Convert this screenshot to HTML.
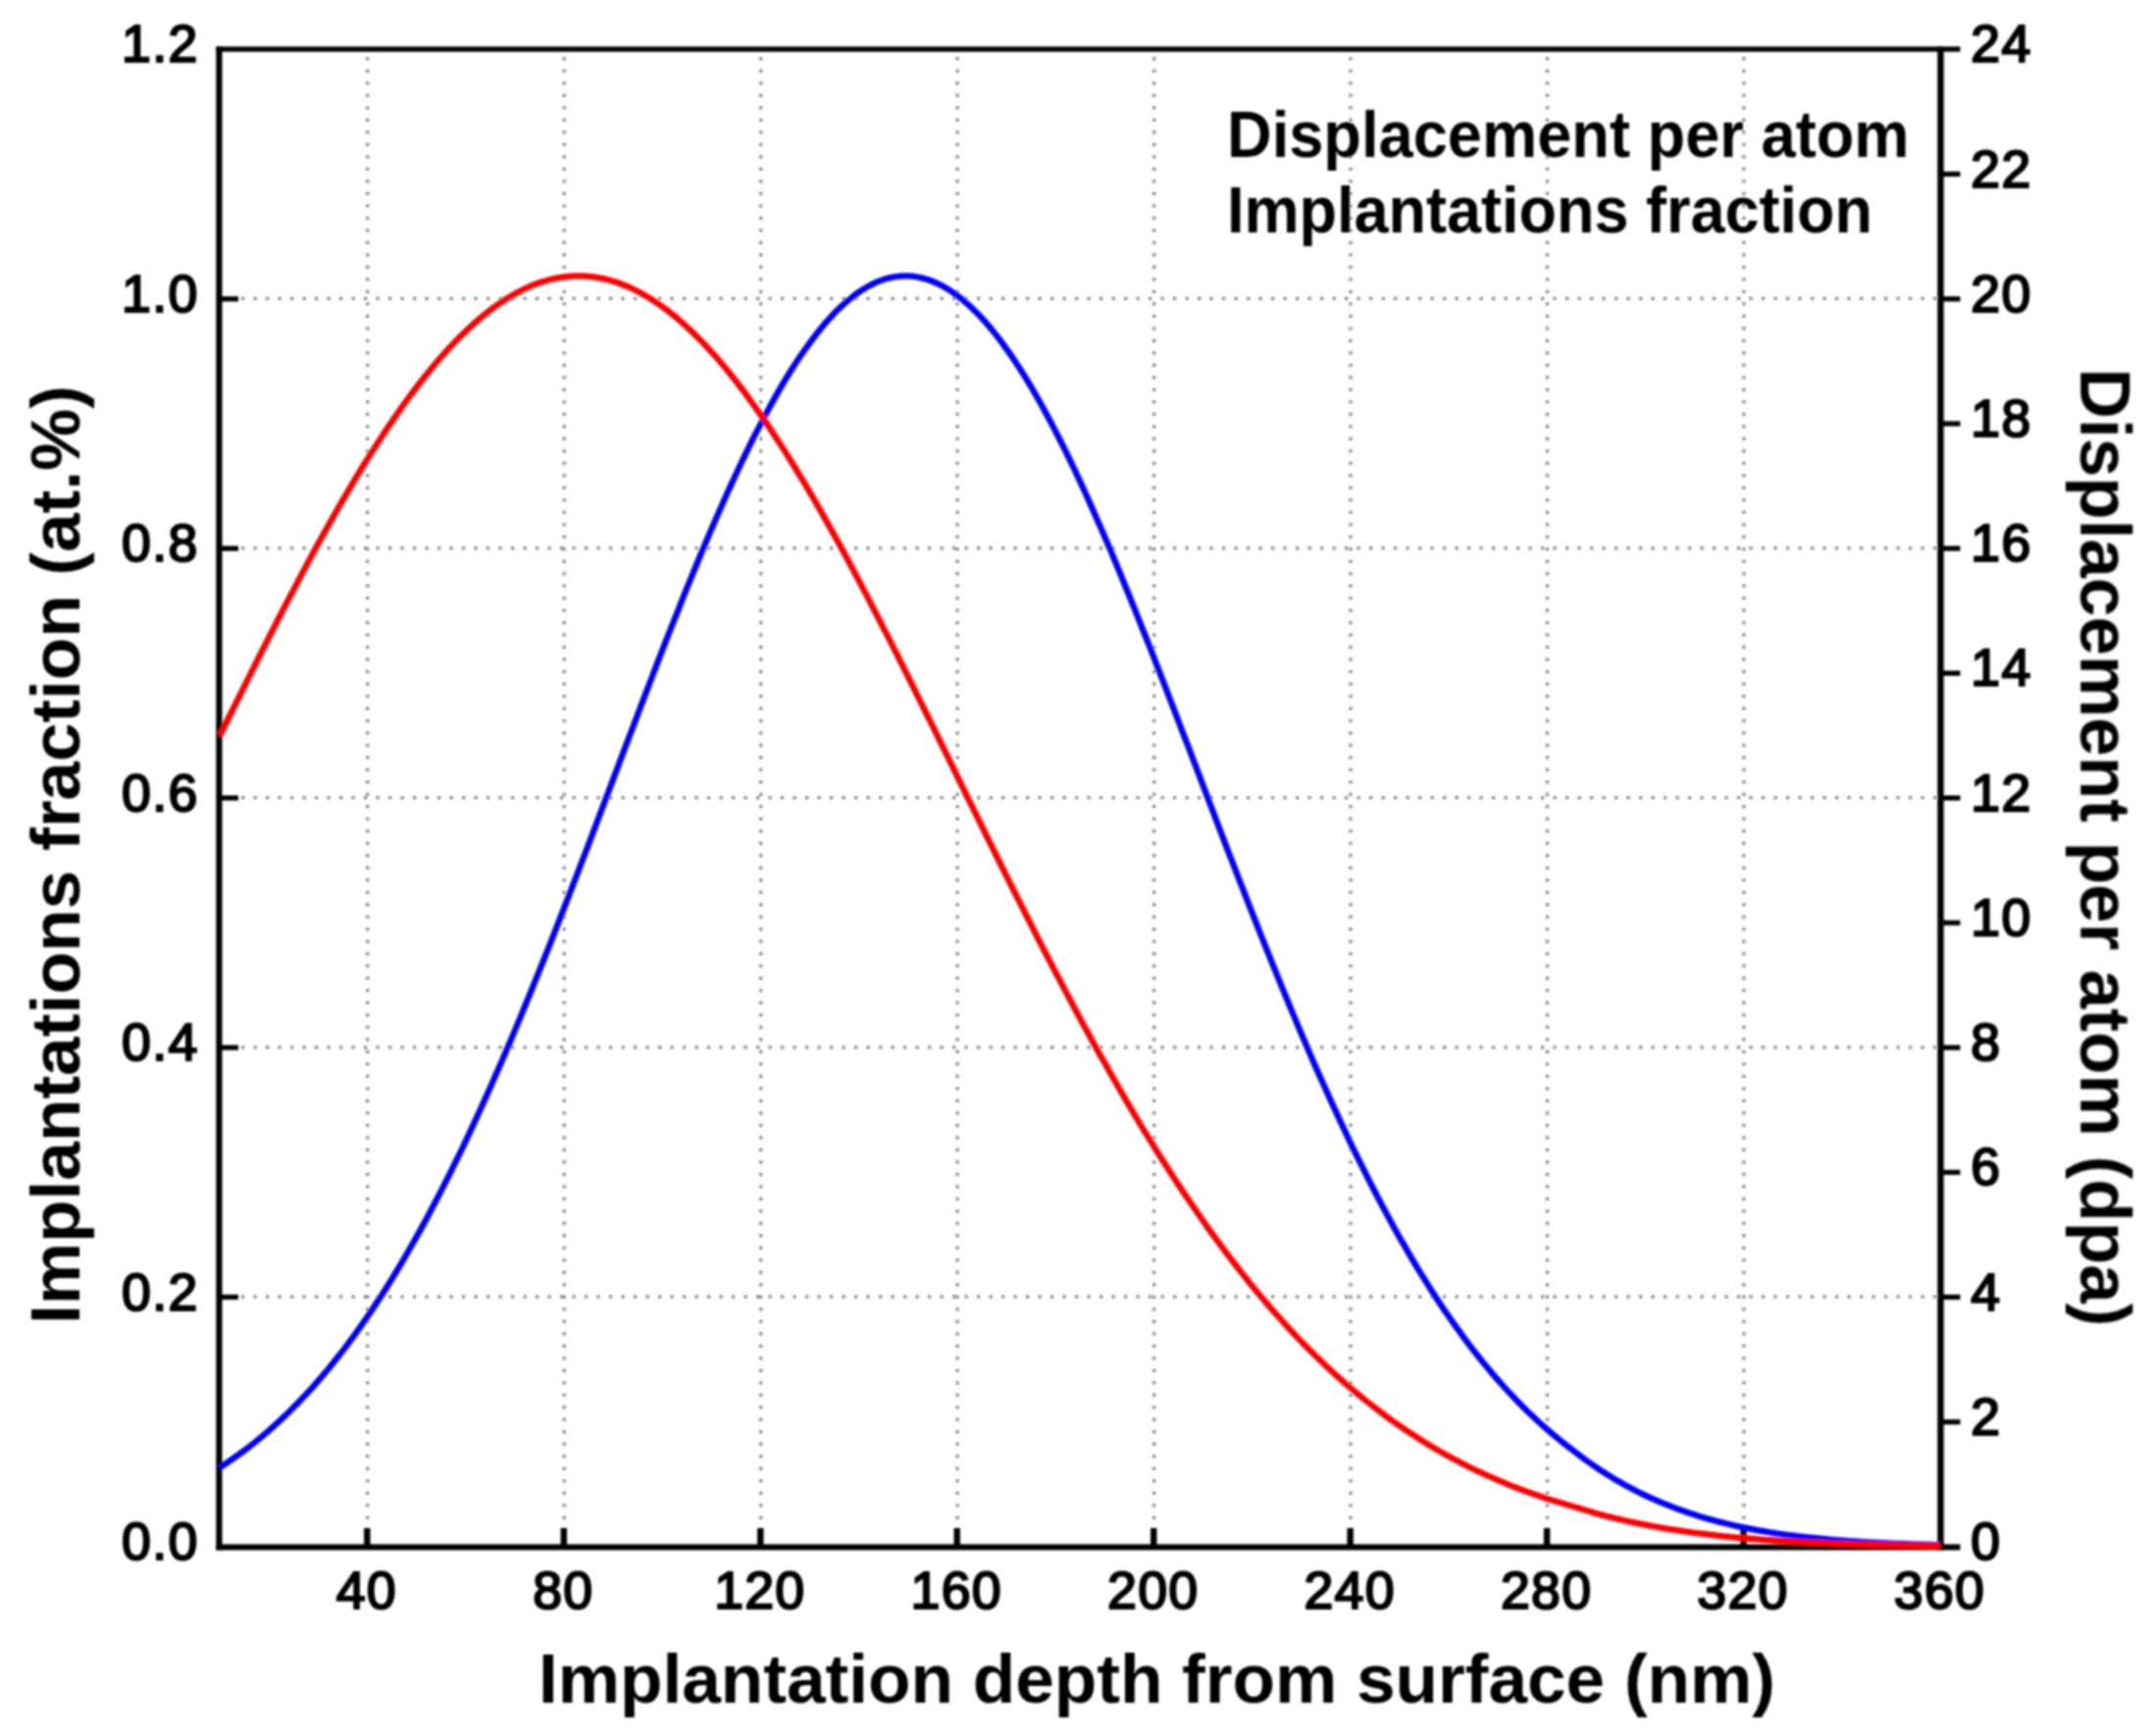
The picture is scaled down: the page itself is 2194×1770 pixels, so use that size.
<!DOCTYPE html>
<html lang="en"><head><meta charset="utf-8"><title>Implantation depth profile</title>
<style>html,body{margin:0;padding:0;background:#fff;}body{width:2194px;height:1770px;overflow:hidden;}svg{display:block;}
text{font-family:"Liberation Sans",Arial,sans-serif;fill:#000;}
.tk{font-size:53.6px;stroke:#000;stroke-width:2.2px;letter-spacing:1.3px;}
.ax{font-weight:bold;}
.lg{font-size:67px;font-weight:bold;}
</style></head><body>
<svg width="2194" height="1770" viewBox="0 0 2194 1770">
<rect width="2194" height="1770" fill="#fff"/>
<defs><filter id="soft" x="0" y="0" width="2194" height="1770" filterUnits="userSpaceOnUse"><feGaussianBlur stdDeviation="0.9"/></filter></defs>
<g filter="url(#soft)">
<g stroke="#858585" stroke-width="3.2" stroke-dasharray="3.2 9.3" fill="none">
<line x1="374.7" y1="58.3" x2="374.7" y2="1574.0"/>
<line x1="575.2" y1="58.3" x2="575.2" y2="1574.0"/>
<line x1="775.7" y1="58.3" x2="775.7" y2="1574.0"/>
<line x1="976.1" y1="58.3" x2="976.1" y2="1574.0"/>
<line x1="1176.6" y1="58.3" x2="1176.6" y2="1574.0"/>
<line x1="1377.0" y1="58.3" x2="1377.0" y2="1574.0"/>
<line x1="1577.5" y1="58.3" x2="1577.5" y2="1574.0"/>
<line x1="1777.9" y1="58.3" x2="1777.9" y2="1574.0"/>
<line x1="246.0" y1="1322.2" x2="1975.0" y2="1322.2"/>
<line x1="246.0" y1="1067.8" x2="1975.0" y2="1067.8"/>
<line x1="246.0" y1="813.3" x2="1975.0" y2="813.3"/>
<line x1="246.0" y1="558.9" x2="1975.0" y2="558.9"/>
<line x1="246.0" y1="304.4" x2="1975.0" y2="304.4"/>
</g>
<g stroke="#000" fill="none">
<line stroke-width="5.1" x1="220.3" y1="50.1" x2="1998.5" y2="50.1"/>
<line stroke-width="6.2" x1="220.3" y1="1577.5" x2="1998.5" y2="1577.5"/>
<line stroke-width="6.2" x1="223.4" y1="47.5" x2="223.4" y2="1580.6"/>
<line stroke-width="6.4" x1="1978.5" y1="47.5" x2="1978.5" y2="1580.6"/>
</g>
<g stroke="#000" fill="none">
<g stroke-width="5.2">
<line x1="224.0" y1="1322.5" x2="243.0" y2="1322.5"/>
<line x1="224.0" y1="1068.1" x2="243.0" y2="1068.1"/>
<line x1="224.0" y1="813.6" x2="243.0" y2="813.6"/>
<line x1="224.0" y1="559.2" x2="243.0" y2="559.2"/>
<line x1="224.0" y1="304.8" x2="243.0" y2="304.8"/>
<line x1="1978.0" y1="1449.8" x2="1998.5" y2="1449.8"/>
<line x1="1978.0" y1="1322.5" x2="1998.5" y2="1322.5"/>
<line x1="1978.0" y1="1195.3" x2="1998.5" y2="1195.3"/>
<line x1="1978.0" y1="1068.1" x2="1998.5" y2="1068.1"/>
<line x1="1978.0" y1="940.9" x2="1998.5" y2="940.9"/>
<line x1="1978.0" y1="813.6" x2="1998.5" y2="813.6"/>
<line x1="1978.0" y1="686.4" x2="1998.5" y2="686.4"/>
<line x1="1978.0" y1="559.2" x2="1998.5" y2="559.2"/>
<line x1="1978.0" y1="432.0" x2="1998.5" y2="432.0"/>
<line x1="1978.0" y1="304.8" x2="1998.5" y2="304.8"/>
<line x1="1978.0" y1="177.5" x2="1998.5" y2="177.5"/>
</g>
<g stroke-width="6.4">
<line x1="374.3" y1="1577.0" x2="374.3" y2="1558.0"/>
<line x1="574.8" y1="1577.0" x2="574.8" y2="1558.0"/>
<line x1="775.3" y1="1577.0" x2="775.3" y2="1558.0"/>
<line x1="975.7" y1="1577.0" x2="975.7" y2="1558.0"/>
<line x1="1176.2" y1="1577.0" x2="1176.2" y2="1558.0"/>
<line x1="1376.6" y1="1577.0" x2="1376.6" y2="1558.0"/>
<line x1="1577.1" y1="1577.0" x2="1577.1" y2="1558.0"/>
<line x1="1777.5" y1="1577.0" x2="1777.5" y2="1558.0"/>
</g>
</g>
<clipPath id="pc"><rect x="222.5" y="50.3" width="1757.0" height="1529.9"/></clipPath>
<g clip-path="url(#pc)">
<path d="M224.0,1496.3 L229.0,1493.1 L234.0,1489.7 L239.0,1486.2 L244.0,1482.6 L249.1,1478.9 L254.1,1475.1 L259.1,1471.1 L264.1,1467.1 L269.1,1462.9 L274.1,1458.6 L279.1,1454.1 L284.1,1449.6 L289.1,1444.9 L294.2,1440.0 L299.2,1435.1 L304.2,1430.0 L309.2,1424.7 L314.2,1419.3 L319.2,1413.8 L324.2,1408.1 L329.2,1402.2 L334.3,1396.3 L339.3,1390.1 L344.3,1383.8 L349.3,1377.4 L354.3,1370.8 L359.3,1364.0 L364.3,1357.1 L369.3,1350.0 L374.3,1342.8 L379.4,1335.4 L384.4,1327.8 L389.4,1320.1 L394.4,1312.2 L399.4,1304.2 L404.4,1296.0 L409.4,1287.6 L414.4,1279.0 L419.4,1270.3 L424.5,1261.4 L429.5,1252.4 L434.5,1243.2 L439.5,1233.8 L444.5,1224.3 L449.5,1214.6 L454.5,1204.8 L459.5,1194.8 L464.5,1184.6 L469.6,1174.3 L474.6,1163.8 L479.6,1153.2 L484.6,1142.4 L489.6,1131.5 L494.6,1120.4 L499.6,1109.2 L504.6,1097.8 L509.7,1086.3 L514.7,1074.7 L519.7,1063.0 L524.7,1051.1 L529.7,1039.1 L534.7,1027.0 L539.7,1014.8 L544.7,1002.5 L549.7,990.1 L554.8,977.5 L559.8,964.9 L564.8,952.2 L569.8,939.4 L574.8,926.6 L579.8,913.6 L584.8,900.6 L589.8,887.6 L594.8,874.5 L599.9,861.3 L604.9,848.1 L609.9,834.9 L614.9,821.7 L619.9,808.4 L624.9,795.1 L629.9,781.9 L634.9,768.6 L639.9,755.3 L645.0,742.1 L650.0,728.9 L655.0,715.7 L660.0,702.6 L665.0,689.5 L670.0,676.5 L675.0,663.6 L680.0,650.7 L685.1,637.9 L690.1,625.3 L695.1,612.7 L700.1,600.2 L705.1,587.9 L710.1,575.7 L715.1,563.6 L720.1,551.7 L725.1,539.9 L730.2,528.3 L735.2,516.9 L740.2,505.6 L745.2,494.6 L750.2,483.7 L755.2,473.0 L760.2,462.6 L765.2,452.4 L770.2,442.4 L775.3,432.6 L780.3,423.1 L785.3,413.9 L790.3,404.9 L795.3,396.1 L800.3,387.7 L805.3,379.5 L810.3,371.6 L815.3,364.0 L820.4,356.7 L825.4,349.8 L830.4,343.1 L835.4,336.7 L840.4,330.7 L845.4,325.0 L850.4,319.6 L855.4,314.6 L860.5,309.9 L865.5,305.6 L870.5,301.6 L875.5,297.9 L880.5,294.6 L885.5,291.7 L890.5,289.1 L895.5,286.9 L900.5,285.1 L905.6,283.6 L910.6,282.5 L915.6,281.8 L920.6,281.4 L925.6,281.4 L930.6,281.7 L935.6,282.5 L940.6,283.6 L945.6,285.0 L950.7,286.8 L955.7,289.0 L960.7,291.5 L965.7,294.4 L970.7,297.6 L975.7,301.2 L980.7,305.1 L985.7,309.3 L990.7,313.9 L995.8,318.9 L1000.8,324.1 L1005.8,329.7 L1010.8,335.6 L1015.8,341.9 L1020.8,348.4 L1025.8,355.3 L1030.8,362.4 L1035.9,369.9 L1040.9,377.6 L1045.9,385.6 L1050.9,393.9 L1055.9,402.5 L1060.9,411.3 L1065.9,420.4 L1070.9,429.8 L1075.9,439.4 L1081.0,449.2 L1086.0,459.2 L1091.0,469.5 L1096.0,480.0 L1101.0,490.7 L1106.0,501.5 L1111.0,512.6 L1116.0,523.9 L1121.0,535.3 L1126.1,546.9 L1131.1,558.6 L1136.1,570.5 L1141.1,582.5 L1146.1,594.7 L1151.1,607.0 L1156.1,619.4 L1161.1,631.9 L1166.1,644.5 L1171.2,657.2 L1176.2,669.9 L1181.2,682.8 L1186.2,695.7 L1191.2,708.7 L1196.2,721.7 L1201.2,734.7 L1206.2,747.8 L1211.3,760.9 L1216.3,774.1 L1221.3,787.2 L1226.3,800.3 L1231.3,813.5 L1236.3,826.6 L1241.3,839.7 L1246.3,852.8 L1251.3,865.8 L1256.4,878.8 L1261.4,891.8 L1266.4,904.7 L1271.4,917.5 L1276.4,930.3 L1281.4,943.0 L1286.4,955.7 L1291.4,968.2 L1296.4,980.7 L1301.5,993.1 L1306.5,1005.4 L1311.5,1017.5 L1316.5,1029.6 L1321.5,1041.6 L1326.5,1053.4 L1331.5,1065.1 L1336.5,1076.7 L1341.5,1088.2 L1346.6,1099.6 L1351.6,1110.8 L1356.6,1121.9 L1361.6,1132.8 L1366.6,1143.6 L1371.6,1154.2 L1376.6,1164.8 L1381.6,1175.1 L1386.7,1185.3 L1391.7,1195.4 L1396.7,1205.3 L1401.7,1215.0 L1406.7,1224.6 L1411.7,1234.0 L1416.7,1243.3 L1421.7,1252.4 L1426.7,1261.4 L1431.8,1270.2 L1436.8,1278.8 L1441.8,1287.3 L1446.8,1295.6 L1451.8,1303.7 L1456.8,1311.7 L1461.8,1319.5 L1466.8,1327.2 L1471.8,1334.7 L1476.9,1342.0 L1481.9,1349.2 L1486.9,1356.2 L1491.9,1363.1 L1496.9,1369.8 L1501.9,1376.4 L1506.9,1382.8 L1511.9,1389.0 L1516.9,1395.1 L1522.0,1401.1 L1527.0,1406.9 L1532.0,1412.5 L1537.0,1418.0 L1542.0,1423.4 L1547.0,1428.7 L1552.0,1433.8 L1557.0,1438.7 L1562.1,1443.5 L1567.1,1448.2 L1572.1,1452.8 L1577.1,1457.2 L1582.1,1461.5 L1587.1,1465.7 L1592.1,1469.8 L1597.1,1473.7 L1602.1,1477.6 L1607.2,1481.5 L1612.2,1485.3 L1617.2,1489.0 L1622.2,1492.5 L1627.2,1496.0 L1632.2,1499.3 L1637.2,1502.5 L1642.2,1505.6 L1647.2,1508.7 L1652.3,1511.6 L1657.3,1514.4 L1662.3,1517.1 L1667.3,1519.7 L1672.3,1522.2 L1677.3,1524.6 L1682.3,1527.0 L1687.3,1529.2 L1692.3,1531.4 L1697.4,1533.4 L1702.4,1535.4 L1707.4,1537.4 L1712.4,1539.2 L1717.4,1541.0 L1722.4,1542.7 L1727.4,1544.3 L1732.4,1545.9 L1737.5,1547.4 L1742.5,1548.9 L1747.5,1550.2 L1752.5,1551.6 L1757.5,1552.8 L1762.5,1554.0 L1767.5,1555.2 L1772.5,1556.3 L1777.5,1557.4 L1782.6,1558.4 L1787.6,1559.4 L1792.6,1560.3 L1797.6,1561.2 L1802.6,1562.0 L1807.6,1562.8 L1812.6,1563.6 L1817.6,1564.3 L1822.6,1565.0 L1827.7,1565.6 L1832.7,1566.3 L1837.7,1566.9 L1842.7,1567.4 L1847.7,1568.0 L1852.7,1568.5 L1857.7,1569.0 L1862.7,1569.4 L1867.7,1569.9 L1872.8,1570.3 L1877.8,1570.7 L1882.8,1571.1 L1887.8,1571.4 L1892.8,1571.7 L1897.8,1572.1 L1902.8,1572.4 L1907.8,1572.6 L1912.9,1572.9 L1917.9,1573.2 L1922.9,1573.4 L1927.9,1573.6 L1932.9,1573.8 L1937.9,1574.0 L1942.9,1574.2 L1947.9,1574.4 L1952.9,1574.6 L1958.0,1574.7 L1963.0,1574.9 L1968.0,1575.0 L1973.0,1575.1 L1978.0,1575.3" fill="none" stroke="#0000ff" stroke-width="6.3" stroke-linejoin="round"/>
<path d="M224.0,750.4 L229.0,740.2 L234.0,730.0 L239.0,719.9 L244.0,709.8 L249.1,699.7 L254.1,689.7 L259.1,679.7 L264.1,669.7 L269.1,659.8 L274.1,649.9 L279.1,640.1 L284.1,630.3 L289.1,620.6 L294.2,610.9 L299.2,601.4 L304.2,591.9 L309.2,582.4 L314.2,573.1 L319.2,563.8 L324.2,554.6 L329.2,545.5 L334.3,536.5 L339.3,527.6 L344.3,518.8 L349.3,510.1 L354.3,501.6 L359.3,493.1 L364.3,484.7 L369.3,476.5 L374.3,468.4 L379.4,460.4 L384.4,452.6 L389.4,444.9 L394.4,437.3 L399.4,429.9 L404.4,422.6 L409.4,415.5 L414.4,408.5 L419.4,401.7 L424.5,395.0 L429.5,388.5 L434.5,382.2 L439.5,376.0 L444.5,370.0 L449.5,364.2 L454.5,358.6 L459.5,353.1 L464.5,347.9 L469.6,342.8 L474.6,337.9 L479.6,333.2 L484.6,328.6 L489.6,324.3 L494.6,320.2 L499.6,316.3 L504.6,312.5 L509.7,309.0 L514.7,305.7 L519.7,302.6 L524.7,299.7 L529.7,297.0 L534.7,294.5 L539.7,292.2 L544.7,290.2 L549.7,288.3 L554.8,286.7 L559.8,285.3 L564.8,284.1 L569.8,283.1 L574.8,282.3 L579.8,281.8 L584.8,281.4 L589.8,281.3 L594.8,281.4 L599.9,281.8 L604.9,282.3 L609.9,283.1 L614.9,284.1 L619.9,285.3 L624.9,286.7 L629.9,288.3 L634.9,290.2 L639.9,292.2 L645.0,294.5 L650.0,297.0 L655.0,299.7 L660.0,302.6 L665.0,305.7 L670.0,309.0 L675.0,312.5 L680.0,316.3 L685.1,320.2 L690.1,324.3 L695.1,328.6 L700.1,333.2 L705.1,337.9 L710.1,342.8 L715.1,347.9 L720.1,353.1 L725.1,358.6 L730.2,364.2 L735.2,370.0 L740.2,376.0 L745.2,382.2 L750.2,388.5 L755.2,395.0 L760.2,401.7 L765.2,408.5 L770.2,415.5 L775.3,422.6 L780.3,429.9 L785.3,437.3 L790.3,444.9 L795.3,452.6 L800.3,460.4 L805.3,468.4 L810.3,476.5 L815.3,484.7 L820.4,493.1 L825.4,501.6 L830.4,510.1 L835.4,518.8 L840.4,527.6 L845.4,536.5 L850.4,545.5 L855.4,554.6 L860.5,563.8 L865.5,573.1 L870.5,582.4 L875.5,591.9 L880.5,601.4 L885.5,610.9 L890.5,620.6 L895.5,630.3 L900.5,640.1 L905.6,649.9 L910.6,659.8 L915.6,669.7 L920.6,679.7 L925.6,689.7 L930.6,699.7 L935.6,709.8 L940.6,719.9 L945.6,730.0 L950.7,740.2 L955.7,750.4 L960.7,760.5 L965.7,770.7 L970.7,780.9 L975.7,791.1 L980.7,801.3 L985.7,811.6 L990.7,821.7 L995.8,831.9 L1000.8,842.1 L1005.8,852.3 L1010.8,862.4 L1015.8,872.5 L1020.8,882.6 L1025.8,892.6 L1030.8,902.7 L1035.9,912.7 L1040.9,922.6 L1045.9,932.5 L1050.9,942.4 L1055.9,952.2 L1060.9,962.0 L1065.9,971.7 L1070.9,981.4 L1075.9,991.0 L1081.0,1000.6 L1086.0,1010.1 L1091.0,1019.5 L1096.0,1028.9 L1101.0,1038.2 L1106.0,1047.4 L1111.0,1056.6 L1116.0,1065.7 L1121.0,1074.7 L1126.1,1083.6 L1131.1,1092.5 L1136.1,1101.3 L1141.1,1110.0 L1146.1,1118.6 L1151.1,1127.1 L1156.1,1135.6 L1161.1,1144.0 L1166.1,1152.3 L1171.2,1160.4 L1176.2,1168.6 L1181.2,1176.6 L1186.2,1184.5 L1191.2,1192.3 L1196.2,1200.1 L1201.2,1207.7 L1206.2,1215.3 L1211.3,1222.7 L1216.3,1230.1 L1221.3,1237.3 L1226.3,1244.5 L1231.3,1251.6 L1236.3,1258.6 L1241.3,1265.4 L1246.3,1272.2 L1251.3,1278.9 L1256.4,1285.5 L1261.4,1292.0 L1266.4,1298.4 L1271.4,1304.7 L1276.4,1310.9 L1281.4,1317.0 L1286.4,1323.0 L1291.4,1328.9 L1296.4,1334.7 L1301.5,1340.4 L1306.5,1346.0 L1311.5,1351.6 L1316.5,1357.0 L1321.5,1362.3 L1326.5,1367.6 L1331.5,1372.7 L1336.5,1377.8 L1341.5,1382.7 L1346.6,1387.6 L1351.6,1392.4 L1356.6,1397.1 L1361.6,1401.7 L1366.6,1406.2 L1371.6,1410.6 L1376.6,1414.9 L1381.6,1419.2 L1386.7,1423.3 L1391.7,1427.4 L1396.7,1431.4 L1401.7,1435.3 L1406.7,1439.1 L1411.7,1442.9 L1416.7,1446.6 L1421.7,1450.2 L1426.7,1453.7 L1431.8,1457.1 L1436.8,1460.5 L1441.8,1463.7 L1446.8,1467.0 L1451.8,1470.1 L1456.8,1473.2 L1461.8,1476.2 L1466.8,1479.1 L1471.8,1481.9 L1476.9,1484.7 L1481.9,1487.4 L1486.9,1490.1 L1491.9,1492.7 L1496.9,1495.2 L1501.9,1497.7 L1506.9,1500.1 L1511.9,1502.4 L1516.9,1504.7 L1522.0,1506.9 L1527.0,1509.1 L1532.0,1511.2 L1537.0,1513.3 L1542.0,1515.3 L1547.0,1517.2 L1552.0,1519.1 L1557.0,1521.0 L1562.1,1522.8 L1567.1,1524.5 L1572.1,1526.2 L1577.1,1527.9 L1582.1,1529.5 L1587.1,1531.1 L1592.1,1532.6 L1597.1,1534.1 L1602.1,1535.5 L1607.2,1537.1 L1612.2,1538.6 L1617.2,1540.1 L1622.2,1541.6 L1627.2,1543.0 L1632.2,1544.4 L1637.2,1545.7 L1642.2,1546.9 L1647.2,1548.2 L1652.3,1549.3 L1657.3,1550.5 L1662.3,1551.6 L1667.3,1552.7 L1672.3,1553.7 L1677.3,1554.7 L1682.3,1555.6 L1687.3,1556.5 L1692.3,1557.4 L1697.4,1558.3 L1702.4,1559.1 L1707.4,1559.9 L1712.4,1560.7 L1717.4,1561.4 L1722.4,1562.1 L1727.4,1562.8 L1732.4,1563.4 L1737.5,1564.0 L1742.5,1564.6 L1747.5,1565.2 L1752.5,1565.8 L1757.5,1566.3 L1762.5,1566.8 L1767.5,1567.3 L1772.5,1567.8 L1777.5,1568.2 L1782.6,1568.6 L1787.6,1569.0 L1792.6,1569.4 L1797.6,1569.8 L1802.6,1570.2 L1807.6,1570.5 L1812.6,1570.8 L1817.6,1571.2 L1822.6,1571.5 L1827.7,1571.7 L1832.7,1572.0 L1837.7,1572.3 L1842.7,1572.5 L1847.7,1572.8 L1852.7,1573.0 L1857.7,1573.2 L1862.7,1573.4 L1867.7,1573.6 L1872.8,1573.8 L1877.8,1574.0 L1882.8,1574.1 L1887.8,1574.3 L1892.8,1574.4 L1897.8,1574.6 L1902.8,1574.7 L1907.8,1574.8 L1912.9,1575.0 L1917.9,1575.1 L1922.9,1575.2 L1927.9,1575.3 L1932.9,1575.4 L1937.9,1575.5 L1942.9,1575.6 L1947.9,1575.7 L1952.9,1575.7 L1958.0,1575.8 L1963.0,1575.9 L1968.0,1576.0 L1973.0,1576.0 L1978.0,1576.1" fill="none" stroke="#ff0000" stroke-width="6.3" stroke-linejoin="round"/>
</g>
<text class="tk" x="202.5" y="1590.0" text-anchor="end">0.0</text>
<text class="tk" x="202.5" y="1335.5" text-anchor="end">0.2</text>
<text class="tk" x="202.5" y="1081.1" text-anchor="end">0.4</text>
<text class="tk" x="202.5" y="826.6" text-anchor="end">0.6</text>
<text class="tk" x="202.5" y="572.2" text-anchor="end">0.8</text>
<text class="tk" x="202.5" y="317.8" text-anchor="end">1.0</text>
<text class="tk" x="202.5" y="63.3" text-anchor="end">1.2</text>
<text class="tk" x="2009.3" y="1590.0">0</text>
<text class="tk" x="2009.3" y="1462.8">2</text>
<text class="tk" x="2009.3" y="1335.5">4</text>
<text class="tk" x="2009.3" y="1208.3">6</text>
<text class="tk" x="2009.3" y="1081.1">8</text>
<text class="tk" x="2009.3" y="953.9">10</text>
<text class="tk" x="2009.3" y="826.6">12</text>
<text class="tk" x="2009.3" y="699.4">14</text>
<text class="tk" x="2009.3" y="572.2">16</text>
<text class="tk" x="2009.3" y="445.0">18</text>
<text class="tk" x="2009.3" y="317.8">20</text>
<text class="tk" x="2009.3" y="190.5">22</text>
<text class="tk" x="2009.3" y="63.3">24</text>
<text class="tk" x="373.8" y="1640.4" text-anchor="middle">40</text>
<text class="tk" x="574.3" y="1640.4" text-anchor="middle">80</text>
<text class="tk" x="774.8" y="1640.4" text-anchor="middle">120</text>
<text class="tk" x="975.2" y="1640.4" text-anchor="middle">160</text>
<text class="tk" x="1175.7" y="1640.4" text-anchor="middle">200</text>
<text class="tk" x="1376.1" y="1640.4" text-anchor="middle">240</text>
<text class="tk" x="1576.6" y="1640.4" text-anchor="middle">280</text>
<text class="tk" x="1777.0" y="1640.4" text-anchor="middle">320</text>
<text class="tk" x="1977.5" y="1640.4" text-anchor="middle">360</text>
<text id="xl" class="ax" font-size="70" x="549" y="1735.5" textLength="1261" lengthAdjust="spacingAndGlyphs">Implantation depth from surface (nm)</text>
<text id="yl" class="ax" font-size="70.5" transform="translate(81,1350) rotate(-90)" textLength="957" lengthAdjust="spacingAndGlyphs">Implantations fraction (at.%)</text>
<text id="yr" class="ax" font-size="72" transform="translate(2121.3,375.5) rotate(90)" textLength="977" lengthAdjust="spacingAndGlyphs">Displacement per atom (dpa)</text>
<text id="l1" class="lg" x="1251" y="159.8" textLength="695.5" lengthAdjust="spacingAndGlyphs">Displacement per atom</text>
<text id="l2" class="lg" x="1251" y="236.8" textLength="658" lengthAdjust="spacingAndGlyphs">Implantations fraction</text>
</g>
</svg></body></html>
